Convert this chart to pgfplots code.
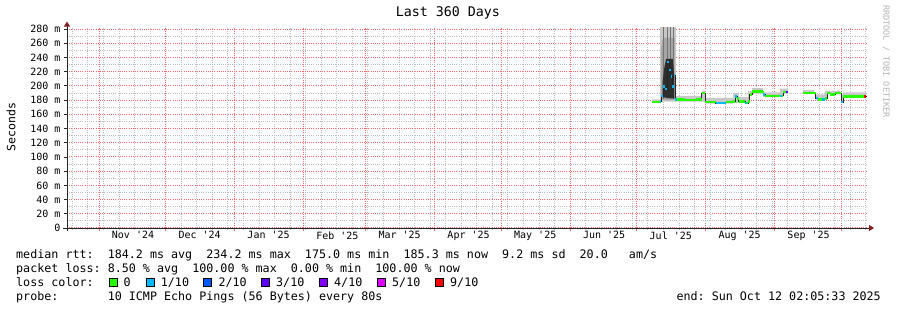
\documentclass[border=0pt]{standalone}
\usepackage{pgfplots}
\pgfplotsset{compat=1.18}
\usepackage{fontspec}
\setmainfont{DejaVu Sans Mono}
\usetikzlibrary{arrows.meta}
\definecolor{mgrid}{RGB}{235,110,110}
\definecolor{sgrid}{RGB}{190,190,190}
\definecolor{lzero}{HTML}{26FF00}
\definecolor{lone}{HTML}{00B8FF}
\definecolor{ltwo}{HTML}{0059FF}
\definecolor{lthree}{HTML}{5E00FF}
\definecolor{lfour}{HTML}{7E00FF}
\definecolor{lfive}{HTML}{DD00FF}
\definecolor{lnine}{HTML}{FF0000}
\definecolor{arrowred}{RGB}{130,30,30}
\definecolor{smoke}{RGB}{200,200,200}
\newcommand\q{\textquotesingle}
\newcommand\lf{\fontsize{11.7bp}{14bp}\selectfont}
\begin{document}
\begin{tikzpicture}
\path[use as bounding box] (0,0) rectangle (897bp,310bp);
\begin{axis}[
  at={(67bp,82bp)}, anchor=south west,
  scale only axis, width=800bp, height=200.4bp,
  xmin=0, xmax=360, ymin=0, ymax=282,
  axis lines=left,
  axis line style={black!85, line width=0.8bp},
  x axis line style={shorten <=-4bp, shorten >=-7bp, -{Triangle[length=5bp,width=6bp,color=arrowred]}},
  y axis line style={shorten <=-3bp, shorten >=-6bp, -{Triangle[length=5bp,width=6bp,color=arrowred]}},
  unbounded coords=jump,
  xtick={14.4,44.4,75.4,106.4,134.4,165.4,195.4,226.4,256.4,287.4,318.4,348.4},
  xticklabels={,,,,,,,,,,,},
  minor xtick={2.4,9.4,...,359.4},
  extra x ticks={29.7,59.7,90.7,121.7,149.7,180.7,210.7,241.7,271.7,302.7,333.7},
  extra x tick labels={Nov \q24,Dec \q24,Jan \q25,Feb \q25,Mar \q25,Apr \q25,May \q25,Jun \q25,Jul \q25,Aug \q25,Sep \q25},
  extra x tick style={grid=none, major tick length=0pt},
  ytick={0,20,...,280},
  yticklabels={0,20 m,40 m,60 m,80 m,100 m,120 m,140 m,160 m,180 m,200 m,220 m,240 m,260 m,280 m},
  minor y tick num=1,
  grid=both,
  major grid style={mgrid, dash pattern=on 1bp off 1.2bp, line width=1bp},
  minor grid style={sgrid, dash pattern=on 1bp off 1.2bp, line width=0.9bp},
  tick align=outside,
  x tick style={mgrid, line width=0.8bp},
  y tick style={black!85, line width=0.8bp},
  major tick length=3bp,
  minor tick length=2bp,
  minor y tick style={draw=none},
  minor x tick style={sgrid},
  tick label style={font=\fontsize{10bp}{12bp}\selectfont, black},
  title={Last 360 Days},
  title style={at={(axis description cs:0.476,1.043)}, anchor=center, font=\fontsize{13.3bp}{15bp}\selectfont},
  ylabel={Seconds},
  ylabel style={at={(axis description cs:-0.07,0.504)}, anchor=center, font=\fontsize{11.5bp}{13bp}\selectfont},
]
% smoke, segment A
\addplot[fill=smoke, draw=none] coordinates {
 (263.3,181) (266.9,181) (266.9,290) (274.0,290) (274.0,186) (285.7,186) (285.7,193) (287.1,193)
 (287.1,183) (299.7,183) (299.7,190) (302.2,190) (302.2,184) (306.5,184) (306.5,193) (308.3,193)
 (308.3,197) (313.2,197) (313.2,191) (320.9,191) (320.9,196) (324.5,196)
 (324.5,189) (322.2,189) (322.2,184) (313.2,184) (313.2,189) (307.2,189) (307.2,176) (299.7,176)
 (299.7,175) (287.1,175) (287.1,178) (266.9,178) (266.9,176) (263.3,176)} -- cycle;
% smoke, segment B
\addplot[fill=smoke, draw=none] coordinates {
 (331.2,194) (336.2,194) (336.2,188) (341.1,188) (341.1,193) (347.9,193) (347.9,188) (349.2,188)
 (349.2,191) (359.6,191)
 (359.6,184) (349.2,184) (349.2,176) (348.5,176) (348.5,189) (342.0,189) (342.0,180) (336.9,180)
 (336.9,189) (331.2,189)} -- cycle;
% spike smoke layers
\addplot[fill=black!35, draw=none] coordinates {
 (267.4,180) (267.4,255) (268.2,268) (273.4,268) (273.4,180)} -- cycle;
\addplot[fill=black!55, draw=none] coordinates {
 (268.7,182) (268.7,290) (268.3,290) (268.3,182)} -- cycle;
\addplot[fill=black!55, draw=none] coordinates {
 (270.4,182) (270.4,290) (269.9,290) (269.9,182)} -- cycle;
\addplot[fill=black!55, draw=none] coordinates {
 (271.8,182) (271.8,290) (271.3,290) (271.3,182)} -- cycle;
\addplot[fill=black!55, draw=none] coordinates {
 (273.0,182) (273.0,290) (272.6,290) (272.6,182)} -- cycle;
\addplot[fill=black!82, draw=none] coordinates {
 (268.0,184) (268.0,205) (268.8,226) (269.6,238) (272.6,238) (273.3,212) (273.3,182)} -- cycle;
% median: thin dark step line
\addplot[black!85, line width=0.8bp, const plot mark left] coordinates {
 (263.3,177) (266.9,178) (267.4,186) (268.2,199) (269.1,196) (270.0,234) (270.9,222) (271.6,213)
 (272.3,199) (273.0,215) (273.6,181) (278,180) (283,181) (285.7,190) (287.1,177) (292,176)
 (296.5,177) (299.7,178) (300.6,185) (301.5,182) (302.2,178) (305.1,176) (306.5,178) (307.2,188)
 (308.3,192) (313.2,191) (313.6,188) (314.1,186) (320.9,186) (322.2,191) (324.5,191) (nan,nan)
 (331.2,190) (336.2,190) (336.9,183) (338.0,181) (341.1,182) (342.0,190) (343.4,188) (345.6,190)
 (347.9,190) (348.5,177) (349.2,185) (359.6,185.3)};
% median: loss 0 (green)
\addplot[lzero, line width=2.4bp, jump mark left] coordinates {
 (263.3,177) (266.9,178) (nan,nan)
 (273.6,181) (278,180) (283,181) (285.7,190) (287.1,177) (292,176)
 (296.5,177) (299.7,178) (300.6,185) (301.5,182) (302.2,178) (305.1,176) (306.5,178) (307.2,188)
 (308.3,192) (313.2,191) (313.6,188) (314.1,186) (320.9,186) (322.2,191) (324.5,191) (nan,nan)
 (331.2,190) (336.2,190) (336.9,183) (338.0,181) (341.1,182) (342.0,190) (343.4,188) (345.6,190)
 (347.9,190) (348.5,177) (349.2,185) (359.6,185.3)};
% median: loss 1/10 (cyan)
\addplot[lone, line width=2.4bp, jump mark left] coordinates {
 (266.9,178) (267.4,186) (268.2,199) (269.1,196) (270.0,234) (270.9,222) (271.6,213) (272.3,199) (273.0,215)
 (273.6,181) (274.6,181) (nan,nan)
 (292,176) (296.5,176) (nan,nan)
 (300.6,185) (301.5,185) (nan,nan)
 (305.1,176) (306.0,176) (nan,nan)
 (313.2,188) (314.1,188) (nan,nan)
 (320.9,186) (321.7,186) (nan,nan)
 (336.9,183) (338.0,183) (nan,nan)
 (339.8,181) (341.1,181) (nan,nan)
 (348.5,177) (349.2,177)};
% median: loss 3/10 and 9/10
\addplot[lthree, line width=2.4bp, jump mark left] coordinates {(323.6,191) (324.5,191)};
\addplot[lnine, line width=2.4bp, jump mark left] coordinates {(358.7,185.3) (359.6,185.3)};
\end{axis}
% legend text
\node[anchor=base west, inner sep=0pt, font=\lf] at (16bp,51.7bp) {median~rtt:~~184.2~ms~avg~~234.2~ms~max~~175.0~ms~min~~185.3~ms~now~~9.2~ms~sd~~20.0~~~am/s};
\node[anchor=base west, inner sep=0pt, font=\lf] at (16bp,37.7bp) {packet~loss:~8.50~\%~avg~~100.00~\%~max~~0.00~\%~min~~100.00~\%~now};
\node[anchor=base west, inner sep=0pt, font=\lf] at (16bp,23.3bp) {loss~color:};
\foreach \bx/\lx/\c/\t in {109/123.3/lzero/0, 145.7/160.7/lone/1\slash10, 203.3/218.3/ltwo/2\slash10, 261.3/276/lthree/3\slash10, 319.3/334/lfour/4\slash10, 377.3/392/lfive/5\slash10, 435.3/450/lnine/9\slash10}{
  \node[draw=black, line width=0.8bp, fill=\c, minimum size=8bp, inner sep=0pt, anchor=south west] at (\bx bp,23.3bp) {};
  \node[anchor=base west, inner sep=0pt, font=\lf] at (\lx bp,23.3bp) {\t};
}
\node[anchor=base west, inner sep=0pt, font=\lf] at (16bp,10bp) {probe:~~~~~~~10~ICMP~Echo~Pings~(56~Bytes)~every~80s};
\node[anchor=base east, inner sep=0pt, font=\lf] at (881bp,10bp) {end:~Sun~Oct~12~02:05:33~2025};
\node[rotate=-90, anchor=west, inner sep=0pt, text=black!30, font=\fontsize{8.5bp}{10bp}\selectfont] at (886bp,305bp) {RRDTOOL~/~TOBI~OETIKER};
\end{tikzpicture}
\end{document}
